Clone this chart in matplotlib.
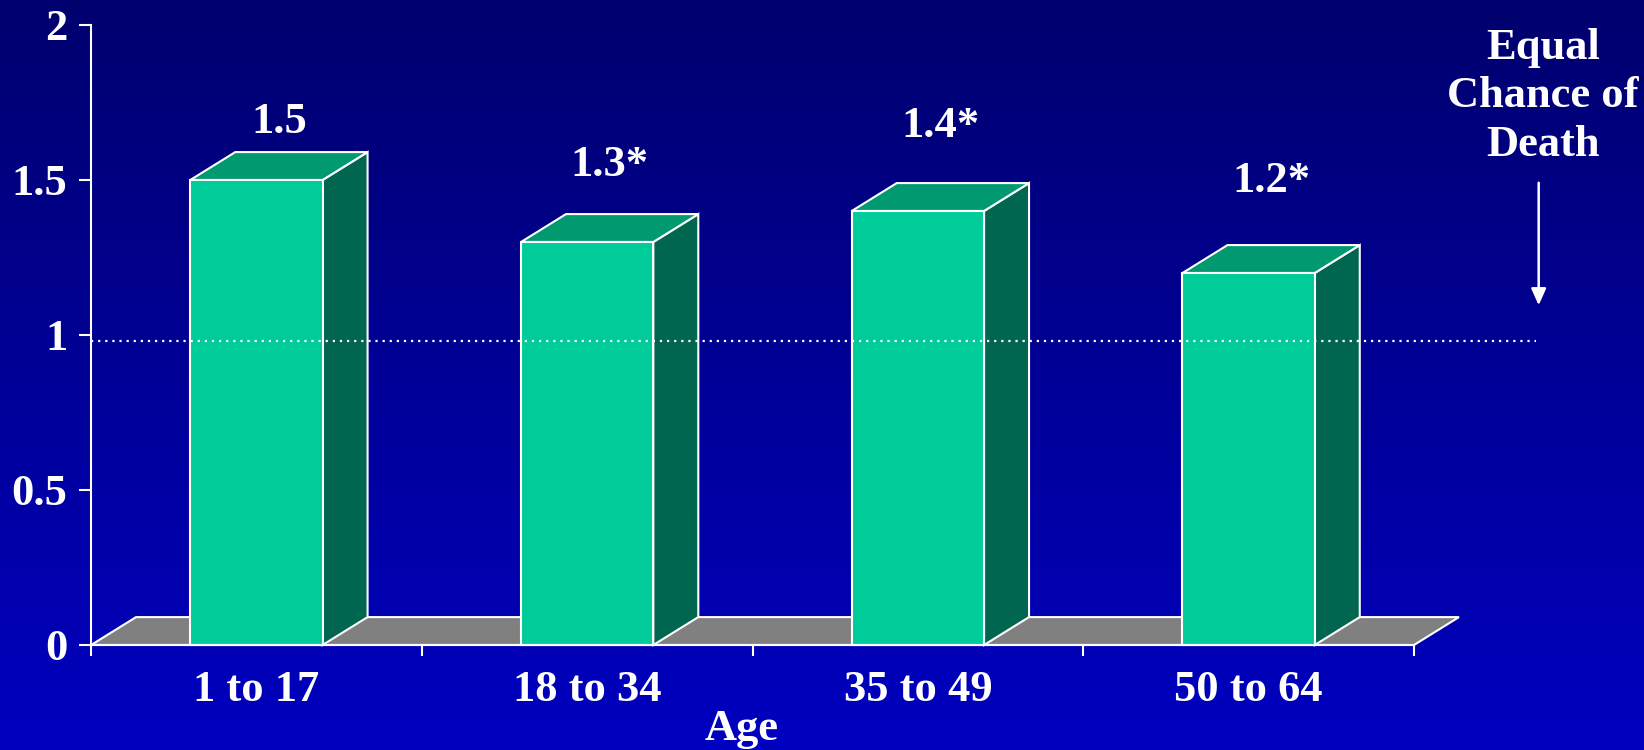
import matplotlib
matplotlib.use("Agg")
import matplotlib.pyplot as plt
import numpy as np
from matplotlib.patches import Polygon, Rectangle
from matplotlib.colors import LinearSegmentedColormap

categories = ["1 to 17", "18 to 34", "35 to 49", "50 to 64"]
values = [1.5, 1.3, 1.4, 1.2]
value_labels = ["1.5", "1.3*", "1.4*", "1.2*"]
label_offsets_pt = [7, 21, 27, 32]
yticks = [0, 0.5, 1, 1.5, 2]
ytick_labels = ["0", "0.5", "1", "1.5", "2"]
reference_level = 0.98
xlabel = "Age"
annotation_text = "Equal\nChance of\nDeath"

FRONT = "#00CC99"
TOP = "#009970"
SIDE = "#006650"
FLOOR = "#808080"
FONT = "Liberation Serif"
FS = 32

fig = plt.figure(figsize=(16.44, 7.5), dpi=100)

# gradient background
bg = fig.add_axes([0, 0, 1, 1], zorder=-10)
grad = np.linspace(0, 1, 256).reshape(-1, 1)
cmap = LinearSegmentedColormap.from_list("bg", ["#00006E", "#0000C0"])
bg.imshow(grad, aspect="auto", cmap=cmap, extent=[0, 1, 0, 1], origin="upper")
bg.axis("off")

ax = fig.add_axes([0.0554, 0.14, 0.8047, 0.8267])
ax.set_facecolor("none")
ax.set_xlim(0, 4)
ax.set_ylim(0, 2)

dx, dy = 0.136, 0.09
bw = 0.4

# floor
floor = Polygon([[0, 0], [4, 0], [4 + dx, dy], [dx, dy]], closed=True,
                facecolor=FLOOR, edgecolor="white", lw=1.5, zorder=1, clip_on=False)
ax.add_patch(floor)

for i, v in enumerate(values):
    xc = i + 0.5
    x0, x1 = xc - bw / 2, xc + bw / 2
    side = Polygon([[x1, 0], [x1 + dx, dy], [x1 + dx, v + dy], [x1, v]], closed=True,
                   facecolor=SIDE, edgecolor="white", lw=1.5, zorder=3, clip_on=False)
    top = Polygon([[x0, v], [x1, v], [x1 + dx, v + dy], [x0 + dx, v + dy]], closed=True,
                  facecolor=TOP, edgecolor="white", lw=1.5, zorder=3, clip_on=False)
    front = Rectangle((x0, 0), bw, v, facecolor=FRONT, edgecolor="white", lw=1.5,
                      zorder=4, clip_on=False)
    ax.add_patch(side)
    ax.add_patch(top)
    ax.add_patch(front)
    ax.annotate(value_labels[i], xy=(xc + dx / 2, v + dy), xytext=(0, label_offsets_pt[i]),
                textcoords="offset points", ha="center", va="bottom", color="white",
                fontsize=FS, fontweight="bold", family=FONT, annotation_clip=False)

# reference dotted line
ax.plot([0, 4.37], [reference_level, reference_level], color="white", lw=1.6,
        linestyle=(0, (1, 2.2)), zorder=5, clip_on=False)

# arrow + annotation
ax.annotate("", xy=(4.377, 1.087), xytext=(4.377, 1.5),
            arrowprops=dict(arrowstyle="-|>,head_length=1.0,head_width=0.45", color="white", lw=1.8),
            annotation_clip=False)
ax.text(4.39, 1.77, annotation_text, ha="center", va="center", color="white",
        fontsize=FS, fontweight="bold", family=FONT, linespacing=1.28, clip_on=False)

# spines and ticks
for s in ["top", "right"]:
    ax.spines[s].set_visible(False)
ax.spines["left"].set_color("white")
ax.spines["left"].set_linewidth(1.5)
ax.spines["bottom"].set_color("white")
ax.spines["bottom"].set_linewidth(1.5)
ax.spines["bottom"].set_zorder(6)

ax.set_yticks(yticks)
ax.set_yticklabels(ytick_labels)
ax.set_xticks([0, 1, 2, 3, 4])
ax.set_xticklabels([])
ax.set_xticks([0.5, 1.5, 2.5, 3.5], minor=True)
ax.set_xticklabels(categories, minor=True)
ax.tick_params(axis="x", which="minor", length=0, pad=18)
ax.tick_params(axis="x", which="major", length=8, width=1.5, color="white", direction="out")
ax.tick_params(axis="y", length=9, width=1.5, color="white", direction="out", pad=8)
for lab in ax.get_yticklabels() + ax.get_xticklabels(minor=True):
    lab.set_color("white")
    lab.set_fontsize(FS)
    lab.set_fontweight("bold")
    lab.set_family(FONT)

fig.text(742 / 1644, 0.028, xlabel, ha="center", va="center", color="white",
         fontsize=FS, fontweight="bold", family=FONT)

fig.savefig("out.png", dpi=100)
